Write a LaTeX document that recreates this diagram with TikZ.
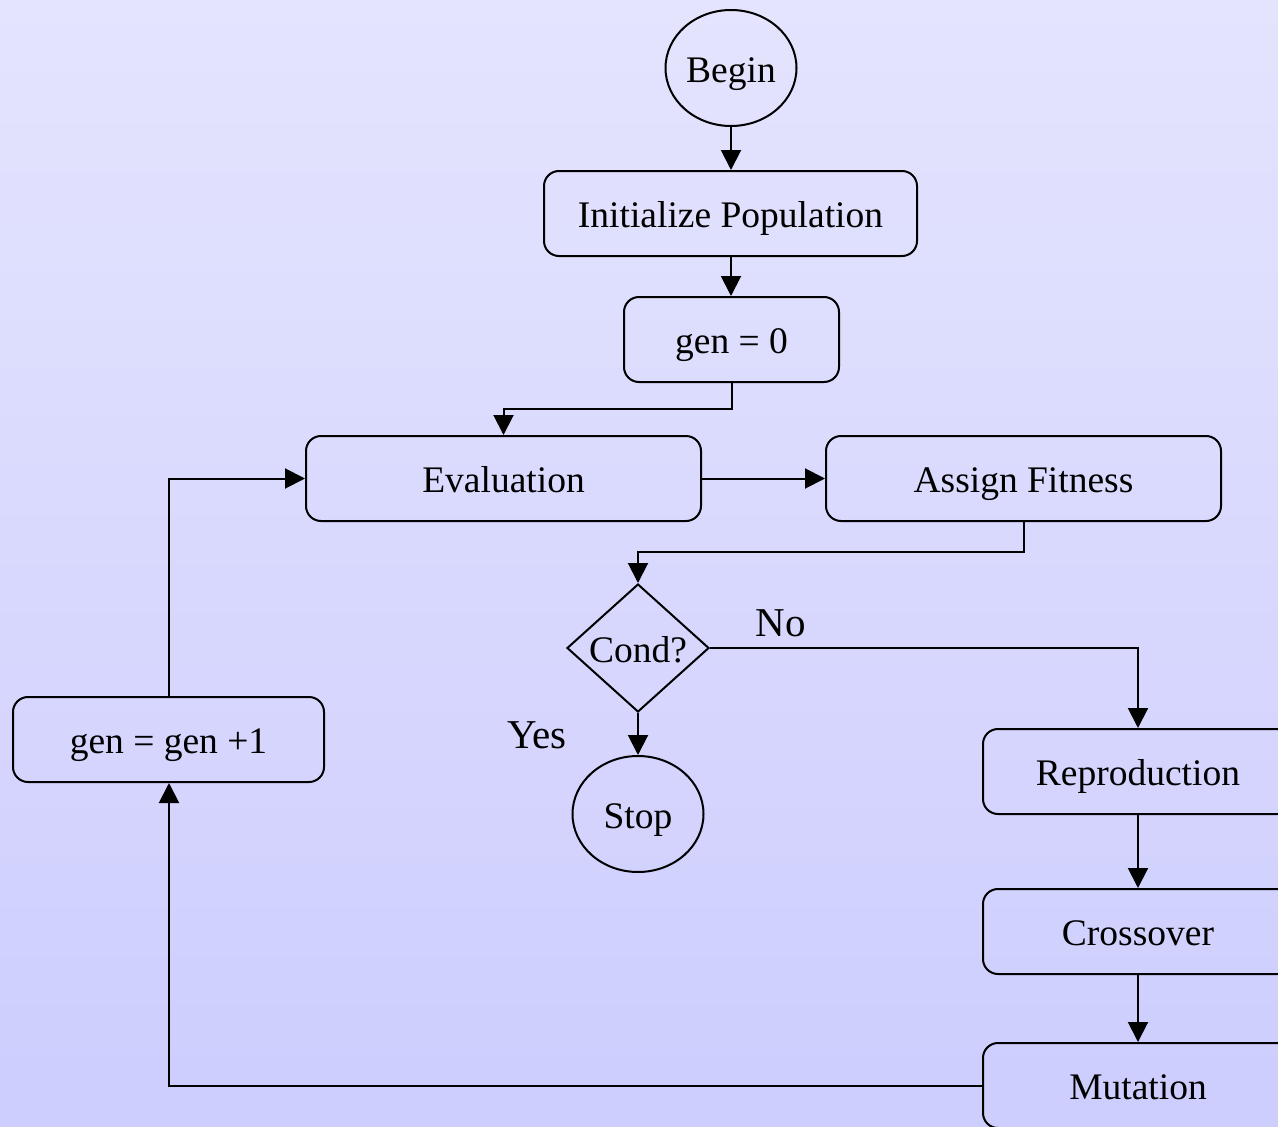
\documentclass[tikz,border=0pt]{standalone}
\usepackage{fontspec}
\setmainfont{Liberation Serif}
\usetikzlibrary{shapes.geometric,arrows.meta}
\definecolor{bgtop}{RGB}{228,228,254}
\definecolor{bgbot}{RGB}{205,205,254}
\tikzset{
  base/.style={draw=black, line width=2pt, inner sep=0pt, text height=28pt, text depth=0pt, font=\fontsize{37.5}{44}\selectfont},
  procbox/.style={base, rectangle, rounded corners=15pt, minimum height=85pt},
  term/.style={base, ellipse, minimum width=131pt, minimum height=116pt},
  decis/.style={base, diamond, minimum width=142pt, minimum height=128pt},
  lbl/.style={inner sep=0pt, font=\fontsize{41}{48}\selectfont},
  conn/.style={line width=2pt, -{Triangle[length=20pt,width=20pt]}}
}
\begin{document}
\begin{tikzpicture}[x=1pt,y=-1pt]
\useasboundingbox (0,0) rectangle (1278,1127);
\fill[top color=bgtop, bottom color=bgbot] (0,0) rectangle (1278,1127);
\clip (0,0) rectangle (1278,1127);
\node[term] (begin) at (731,68) {Begin};
\node[procbox, minimum width=373pt] (init) at (730.5,213.5) {Initialize Population};
\node[procbox, minimum width=215pt] (gen0) at (731.5,339.5) {gen = 0};
\node[procbox, minimum width=395pt] (eval) at (503.5,478.5) {Evaluation};
\node[procbox, minimum width=395pt] (fit) at (1023.5,478.5) {Assign Fitness};
\node[decis] (cond) at (638,648) {Cond?};
\node[term] (stop) at (638,814) {Stop};
\node[procbox, minimum width=311pt] (inc) at (168.5,739.5) {gen = gen +1};
\node[procbox, minimum width=310pt] (repro) at (1138,771.5) {Reproduction};
\node[procbox, minimum width=310pt] (cross) at (1138,931.5) {Crossover};
\node[procbox, minimum width=310pt] (mut) at (1138,1085.5) {Mutation};
\node[lbl] (no) at (781,623) {No};
\node[lbl] (yes) at (537,735) {Yes};
\coordinate (c1) at (731.5,409);
\coordinate (c2) at (503.5,409);
\coordinate (c3) at (1023.5,552);
\coordinate (c4) at (638,552);
\coordinate (c5) at (1138,648);
\coordinate (c6) at (169,1085.5);
\coordinate (c7) at (169,478.5);
\draw[conn] (begin.south) -- (init.north -| begin.south);
\draw[conn] (init.south -| begin.south) -- (gen0.north -| begin.south);
\draw[conn] (gen0.south) -- (c1) -- (c2) -- (eval.north);
\draw[conn] (eval.east) -- (fit.west);
\draw[conn] (fit.south) -- (c3) -- (c4) -- (cond.north);
\draw[conn] (cond.east) -- (c5) -- (repro.north);
\draw[conn] (cond.south) -- (stop.north);
\draw[conn] (repro.south) -- (cross.north);
\draw[conn] (cross.south) -- (mut.north);
\draw[conn] (mut.west) -- (c6) -- (inc.south -| c6);
\draw[conn] (inc.north -| c7) -- (c7) -- (eval.west);
\end{tikzpicture}
\end{document}
